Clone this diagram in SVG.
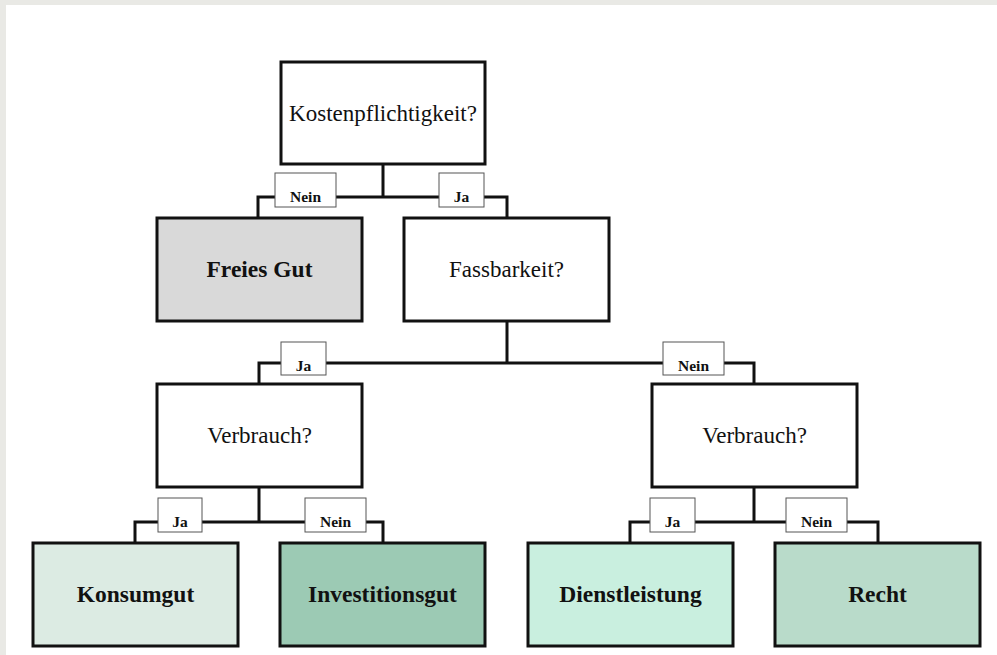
<svg xmlns="http://www.w3.org/2000/svg" width="997" height="655" viewBox="0 0 997 655">
<style>
.node{stroke:#111;stroke-width:3}
.q{font-family:"Liberation Serif","Times New Roman",serif;font-size:23px;fill:#111;text-anchor:middle}
.b{font-family:"Liberation Serif","Times New Roman",serif;font-size:23.5px;font-weight:bold;fill:#111;text-anchor:middle}
.lbl rect{fill:#fff;stroke:#555;stroke-width:1}
.lbl text{font-family:"Liberation Serif","Times New Roman",serif;font-size:15.5px;font-weight:bold;fill:#111;text-anchor:middle}
.conn{fill:none;stroke:#111;stroke-width:3}
</style>
<rect x="0" y="0" width="997" height="655" fill="#e9e9e5"/>
<rect x="6" y="5" width="991" height="650" fill="#ffffff"/>
<g id="connectors" class="conn">
<path d="M383,164 V197 M258,218 V197 H507 V218"/>
<path d="M507,321 V363 M259,384 V363 H754 V384"/>
<path d="M259,487 V522 M135,543 V522 H383 V543"/>
<path d="M754,487 V522 M630,543 V522 H878 V543"/>
</g>
<g id="labels" class="lbl">
<g id="l1"><rect x="275" y="173" width="61" height="34"/><text x="305.5" y="202">Nein</text></g>
<g id="l2"><rect x="439" y="173" width="45" height="34"/><text x="461.5" y="202">Ja</text></g>
<g id="l3"><rect x="281" y="342" width="45" height="33"/><text x="303.5" y="371">Ja</text></g>
<g id="l4"><rect x="663" y="342" width="61" height="33"/><text x="693.5" y="371">Nein</text></g>
<g id="l5"><rect x="158" y="498" width="44" height="34"/><text x="180" y="527">Ja</text></g>
<g id="l6"><rect x="305" y="498" width="61" height="34"/><text x="335.5" y="527">Nein</text></g>
<g id="l7"><rect x="650" y="498" width="45" height="34"/><text x="672.5" y="527">Ja</text></g>
<g id="l8"><rect x="786" y="498" width="61" height="34"/><text x="816.5" y="527">Nein</text></g>
</g>
<g id="kosten"><rect class="node" x="281" y="62" width="204" height="102" fill="#fff"/><text class="q" x="383" y="121">Kostenpflichtigkeit?</text></g>
<g id="freies"><rect class="node" x="157" y="218" width="205" height="103" fill="#d9d9d9"/><text class="b" x="259.5" y="277">Freies Gut</text></g>
<g id="fassbar"><rect class="node" x="404" y="218" width="205" height="103" fill="#fff"/><text class="q" x="506.5" y="277">Fassbarkeit?</text></g>
<g id="verbrauch1"><rect class="node" x="157" y="384" width="205" height="103" fill="#fff"/><text class="q" x="259.5" y="443">Verbrauch?</text></g>
<g id="verbrauch2"><rect class="node" x="652" y="384" width="205" height="103" fill="#fff"/><text class="q" x="754.5" y="443">Verbrauch?</text></g>
<g id="konsum"><rect class="node" x="33" y="543" width="205" height="103" fill="#dcebe3"/><text class="b" x="135.5" y="602">Konsumgut</text></g>
<g id="invest"><rect class="node" x="280" y="543" width="205" height="103" fill="#9ccab4"/><text class="b" x="382.5" y="602">Investitionsgut</text></g>
<g id="dienst"><rect class="node" x="528" y="543" width="205" height="103" fill="#c9efdf"/><text class="b" x="630.5" y="602">Dienstleistung</text></g>
<g id="recht"><rect class="node" x="775" y="543" width="205" height="103" fill="#b9dbca"/><text class="b" x="877.5" y="602">Recht</text></g>
</svg>
